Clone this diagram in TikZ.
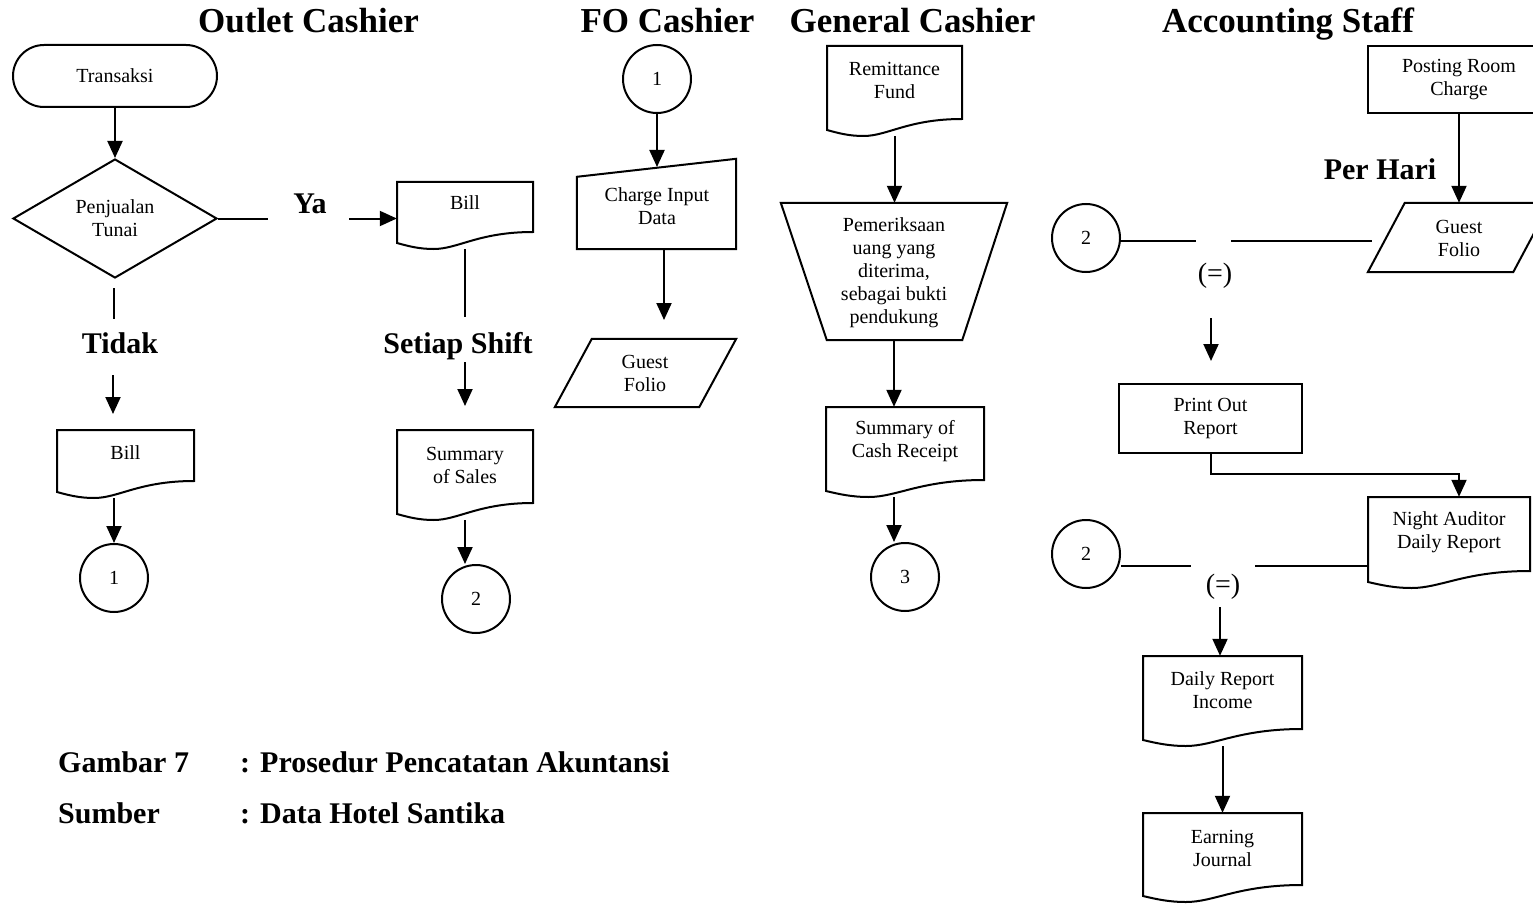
\documentclass[tikz,border=0pt]{standalone}
\usepackage{fontspec}
\setmainfont{Liberation Serif}
\usetikzlibrary{arrows.meta,shapes.geometric,calc}

\tikzset{
  ln/.style={line width=2pt},
  arr/.style={ln, -{Triangle[length=17pt 0 0,width=15pt 0 0]}},
  boxnode/.style={rectangle, draw=none, inner sep=0pt},
  txt/.style={font=\fontsize{20}{23}\selectfont, align=center, inner sep=0pt},
  proc/.style={rectangle, draw, ln, inner sep=0pt, font=\fontsize{20}{23}\selectfont, align=center},
  conn/.style={circle, draw, ln, minimum size=68pt, inner sep=0pt, font=\fontsize{20}{23}\selectfont},
  coltitle/.style={font=\fontsize{35}{40}\selectfont\bfseries, anchor=base, inner sep=0pt},
  lbl/.style={font=\fontsize{30}{34}\selectfont\bfseries, anchor=base, inner sep=0pt},
  eqlbl/.style={font=\fontsize{28}{32}\selectfont, anchor=base, inner sep=0pt},
  capt/.style={font=\fontsize{30}{34}\selectfont\bfseries, anchor=base west, inner sep=0pt},
}

% document symbol: name, left x, right x, top y, lowest y of the wave, text y, text
\newcommand{\docshape}[7]{%
  \node[boxnode, minimum width={(#3-#2)*1pt}, minimum height={(#5-#4)*1pt}] (#1) at ({(#2+#3)/2},{(#4+#5)/2}) {};
  \draw[ln, line join=miter] (#2,{#5-6}) -- (#2,#4) -- (#3,#4) -- (#3,{#5-17})
    .. controls ({#2+0.6*(#3-#2)},{#5-17}) and ({#2+0.45*(#3-#2)},#5) .. ({#2+0.27*(#3-#2)},#5)
    .. controls ({#2+0.16*(#3-#2)},#5) and ({#2+0.08*(#3-#2)},{#5-3}) .. (#2,{#5-6}) -- cycle;
  \node[txt] (#1-t) at ({(#2+#3)/2},#6) {#7};
}

\begin{document}
\begin{tikzpicture}[x=1pt,y=-1pt]
\useasboundingbox (0,0) rectangle (1533,904);
\clip (0,0) rectangle (1533,904);

% column headings
\node[coltitle] (h1) at (308.5,33) {Outlet Cashier};
\node[coltitle] (h2) at (667.5,33) {FO Cashier};
\node[coltitle] (h3) at (912.5,33) {General Cashier};
\node[coltitle] (h4) at (1288,33) {Accounting Staff};

% ---------------- Outlet Cashier ----------------
\node[proc, rounded corners=31pt, minimum width=204pt, minimum height=62pt] (trans) at (115,76) {Transaksi};
\node[diamond, draw, ln, aspect=1.7, inner sep=0pt, minimum width=204pt, minimum height=119pt,
      font=\fontsize{20}{23}\selectfont, align=center] (dia) at (115,218.5) {Penjualan\\Tunai};
\draw[arr] (trans.south) -- (dia.north);

% "Ya" branch
\coordinate (ya1) at (268,218.5);
\coordinate (ya2) at (349,218.5);
\node[lbl] (ya) at (310,213) {Ya};
\docshape{billR}{397}{533}{182}{249}{203}{Bill}
\draw[ln] (dia.east) -- (ya1);
\draw[arr] (ya2) -- (ya2 -| billR.west);

\coordinate (ss1) at (465,317);
\coordinate (ss2) at (465,362);
\coordinate (ss3) at (465,406);
\node[lbl] (shift) at (458,353) {Setiap Shift};
\draw[ln] (billR.south) -- (ss1);
\draw[arr] (ss2) -- (ss3);
\docshape{sales}{397}{533}{430}{520}{465}{Summary\\of Sales}
\node[conn] (c2) at (476,599) {2};
\draw[arr] (sales.south) -- (sales.south |- c2.north);

% "Tidak" branch
\coordinate (td1) at (114,288);
\coordinate (td2) at (114,319);
\coordinate (td3) at (113,375);
\coordinate (td4) at (113,414);
\node[lbl] (tidak) at (120,353) {Tidak};
\draw[ln] (td1) -- (td2);
\draw[arr] (td3) -- (td4);
\docshape{billL}{57}{194}{430}{498}{453}{Bill}
\node[conn] (c1) at (114,578) {1};
\draw[arr] (billL.south -| c1.north) -- (c1.north);

% ---------------- FO Cashier ----------------
\node[conn] (c1b) at (657,79) {1};
\node[boxnode, minimum width=159pt, minimum height=90pt] (ci) at (656.5,204) {};
\draw[ln, line join=miter] (ci.south west) -- ([yshift=-18pt]ci.north west) -- (ci.north east) -- (ci.south east) -- cycle;
\node[txt] (ci-t) at (657,206.5) {Charge Input\\Data};
\coordinate (ciin) at (657,167);
\draw[arr] (c1b.south) -- (ciin);

\coordinate (gfin) at (664,320);
\draw[arr] (ci.south -| gfin) -- (gfin);
\node[boxnode, minimum width=181pt, minimum height=68pt] (gf1) at (645.5,373) {};
\draw[ln, line join=miter] ([xshift=37pt]gf1.north west) -- (gf1.north east) -- ([xshift=-37pt]gf1.south east) -- (gf1.south west) -- cycle;
\node[txt] (gf1-t) at (645,373) {Guest\\Folio};

% ---------------- General Cashier ----------------
\docshape{remit}{827}{962}{46}{136}{80}{Remittance\\Fund}
\node[boxnode, minimum width=226pt, minimum height=137pt] (chk) at (894,271.5) {};
\draw[ln, line join=miter] (chk.north west) -- (chk.north east) -- ([xshift=-45pt]chk.south east) -- ([xshift=46pt]chk.south west) -- cycle;
\node[txt] (chk-t) at (894,273) {Pemeriksaan\\uang yang\\diterima,\\sebagai bukti\\pendukung};
\draw[arr] (remit.south) -- (remit.south |- chk.north);
\docshape{cashrec}{826}{984}{407}{497}{441}{Summary of\\Cash Receipt}
\draw[arr] (chk.south) -- (chk.south |- cashrec.north);
\node[conn] (c3) at (905,577) {3};
\draw[arr] (cashrec.south -| chk.south) -- (chk.south |- c3.north);

% ---------------- Accounting Staff ----------------
\node[proc, minimum width=182pt, minimum height=67pt] (post) at (1459,79.5) {Posting Room\\Charge};
\node[boxnode, minimum width=182pt, minimum height=69pt] (gf2) at (1459,237.5) {};
\draw[ln, line join=miter] ([xshift=37pt]gf2.north west) -- (gf2.north east) -- ([xshift=-37pt]gf2.south east) -- (gf2.south west) -- cycle;
\node[txt] (gf2-t) at (1459,238) {Guest\\Folio};
\node[lbl] (hari) at (1380,180) {Per Hari};
\draw[arr] (post.south) -- (gf2.north);

\node[conn] (c2a) at (1086,238) {2};
\coordinate (eq1a) at (1196,241);
\coordinate (eq1b) at (1231,241);
\coordinate (gf2in) at (1372,241);
\draw[ln] (c2a.east |- eq1a) -- (eq1a);
\draw[ln] (eq1b) -- (gf2in);
\node[eqlbl] (eq1) at (1215,282) {(=)};

\coordinate (pr1) at (1211,318);
\coordinate (pr2) at (1211,361);
\draw[arr] (pr1) -- (pr2);
\node[proc, minimum width=183pt, minimum height=69pt] (print) at (1210.5,418.5) {Print Out\\Report};

\docshape{night}{1368}{1530}{497}{588}{532}{Night Auditor\\Daily Report}
\coordinate (nt) at (1459,474);
\draw[arr] (print.south) |- (nt) -- (nt |- night.north);

\node[conn] (c2b) at (1086,554) {2};
\coordinate (eq2a) at (1191,566);
\coordinate (eq2b) at (1255,566);
\draw[ln] (c2b.east |- eq2a) -- (eq2a);
\draw[ln] (eq2b) -- (eq2b -| night.west);
\node[eqlbl] (eq2) at (1223,593) {(=)};

\docshape{income}{1143}{1302}{656}{746}{690}{Daily Report\\Income}
\coordinate (in1) at (1220,607);
\draw[arr] (in1) -- (in1 |- income.north);
\docshape{earning}{1143}{1302}{813}{902}{848}{Earning\\Journal}
\draw[arr] (income.south) -- (earning.north);

% caption
\node[capt] (cap1a) at (58,772) {Gambar 7};
\node[capt] (cap1b) at (240,772) {: Prosedur Pencatatan Akuntansi};
\node[capt] (cap2a) at (58,823) {Sumber};
\node[capt] (cap2b) at (240,823) {: Data Hotel Santika};
\end{tikzpicture}
\end{document}
